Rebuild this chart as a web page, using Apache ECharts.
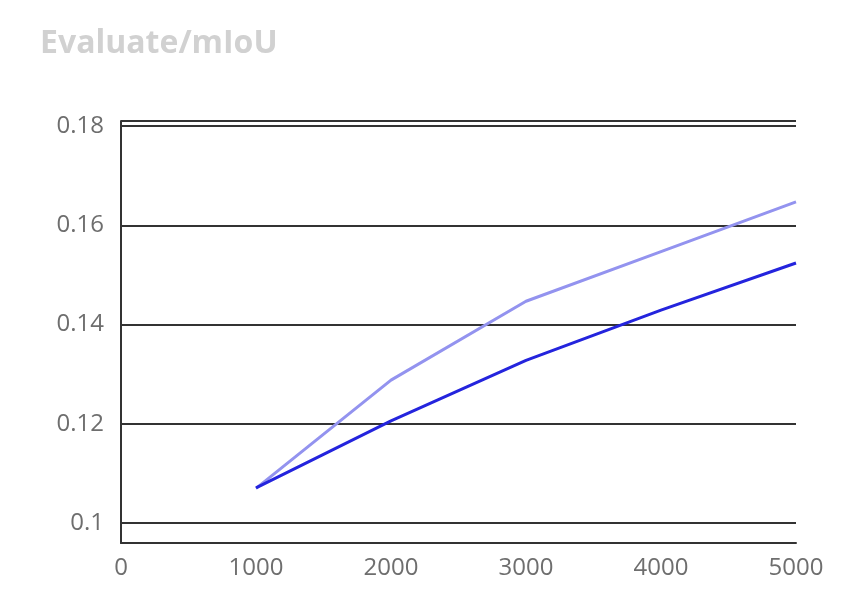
<!DOCTYPE html>
<html><head><meta charset="utf-8">
<script src="https://cdn.jsdelivr.net/npm/echarts@6/dist/echarts.min.js"></script>
<style>html,body{margin:0;padding:0;background:#fff}#c{width:856px;height:602px}</style>
</head><body><div id="c"></div>
<script>
const steps = [1000, 2000, 3000, 4000, 5000];
const seriesLight = [0.1070, 0.1288, 0.1447, 0.1547, 0.1647];
const seriesDark = [0.1071, 0.1206, 0.1328, 0.1429, 0.1524];
const xTicks = [0, 1000, 2000, 3000, 4000, 5000];
const yTicks = [0.1, 0.12, 0.14, 0.16, 0.18];

const font = '"Open Sans", "Noto Sans", sans-serif';
const chart = echarts.init(document.getElementById('c'));
chart.setOption({
  animation: false,
  title: {
    text: 'Evaluate/mIoU', left: 35, top: 23,
    textStyle: { color: '#d1d1d1', fontSize: 32, fontWeight: 'bold', fontFamily: font }
  },
  grid: { left: 121, right: 60, top: 121, bottom: 59 },
  xAxis: {
    type: 'value', min: xTicks[0], max: xTicks[xTicks.length - 1], interval: 1000,
    axisLine: { show: true, lineStyle: { color: '#333', width: 2 } },
    axisTick: { show: false },
    splitLine: { show: false },
    axisLabel: { color: '#6e6e6e', fontSize: 24, margin: 13, fontFamily: font,
      formatter: v => String(v) }
  },
  yAxis: {
    type: 'value', min: 0.096, max: 0.181,
    axisLine: { show: true, onZero: false, lineStyle: { color: '#333', width: 2 } },
    axisTick: { show: false },
    splitLine: { show: true, lineStyle: { color: '#333', width: 2 } },
    axisLabel: {
      color: '#6e6e6e', fontSize: 24, margin: 17, fontFamily: font,
      showMinLabel: false, showMaxLabel: false,
      formatter: v => yTicks.some(t => Math.abs(t - v) < 1e-9) ? String(+v.toFixed(4)) : ''
    }
  },
  series: [
    { type: 'line', data: steps.map((s, i) => [s, seriesLight[i]]), showSymbol: false,
      lineStyle: { color: '#9393ef', width: 3 }, itemStyle: { color: '#9393ef' } },
    { type: 'line', data: steps.map((s, i) => [s, seriesDark[i]]), showSymbol: false,
      lineStyle: { color: '#2424dd', width: 3 }, itemStyle: { color: '#2424dd' } }
  ]
});
</script></body></html>
